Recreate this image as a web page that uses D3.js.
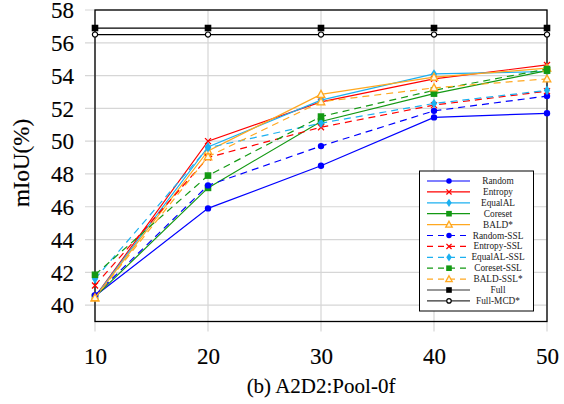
<!DOCTYPE html>
<html><head><meta charset="utf-8">
<script src="https://cdn.jsdelivr.net/npm/d3@7"></script>
<style>body{margin:0;background:#fff}svg{display:block}</style>
</head><body>
<svg id="c" width="564" height="404"></svg>
<script>
const xs = [10, 20, 30, 40, 50];
const yTicks = [40, 42, 44, 46, 48, 50, 52, 54, 56, 58];
const xTicks = [10, 20, 30, 40, 50];
const random      = [40.55, 45.9, 48.5, 51.45, 51.7];
const entropy     = [40.5, 50.0, 52.4, 53.8, 54.65];
const equalAL     = [40.5, 49.65, 52.5, 54.1, 54.25];
const coreset     = [40.5, 47.15, 51.2, 52.9, 54.3];
const bald        = [40.45, 49.4, 52.85, 53.9, 54.45];
const randomSSL   = [40.6, 47.3, 49.7, 51.85, 52.75];
const entropySSL  = [41.2, 49.0, 50.85, 52.2, 53.05];
const equalALSSL  = [41.6, 49.6, 51.1, 52.3, 53.1];
const coresetSSL  = [41.85, 47.9, 51.5, 53.1, 54.4];
const baldSSL     = [40.45, 49.05, 52.4, 53.25, 53.8];
const full        = [56.9, 56.9, 56.9, 56.9, 56.9];
const fullMCD     = [56.5, 56.5, 56.5, 56.5, 56.5];

const series = [
  {name:"Random", v:random, c:"#0000ff", m:"circle", d:false},
  {name:"Entropy", v:entropy, c:"#ff0000", m:"x", d:false},
  {name:"EqualAL", v:equalAL, c:"#1cb0f0", m:"diamond", d:false},
  {name:"Coreset", v:coreset, c:"#139913", m:"square", d:false},
  {name:"BALD*", v:bald, c:"#ffa820", m:"triangle", d:false},
  {name:"Random-SSL", v:randomSSL, c:"#0000ff", m:"circle", d:true},
  {name:"Entropy-SSL", v:entropySSL, c:"#ff0000", m:"x", d:true},
  {name:"EqualAL-SSL", v:equalALSSL, c:"#1cb0f0", m:"diamond", d:true},
  {name:"Coreset-SSL", v:coresetSSL, c:"#139913", m:"square", d:true},
  {name:"BALD-SSL*", v:baldSSL, c:"#ffa820", m:"triangle", d:true},
  {name:"Full", v:full, c:"#000000", m:"square", d:false},
  {name:"Full-MCD*", v:fullMCD, c:"#000000", m:"ocircle", d:false}
];

const FONT = "'Liberation Serif', serif";
const svg = d3.select("#c").style("font-family", FONT);
const L = 95, R = 547, T = 10, B = 321.5;
const x = d3.scaleLinear().domain([10, 50]).range([L, R]);
const y = d3.scaleLinear().domain([39, 58]).range([B, T]);

const g = svg.append("g");
g.selectAll(".gy").data(yTicks).join("line")
  .attr("x1", L - 10).attr("x2", R).attr("y1", d => y(d)).attr("y2", d => y(d))
  .attr("stroke", "#d6d6d6").attr("stroke-width", 1.2);
g.selectAll(".gx").data(xTicks).join("line")
  .attr("y1", T).attr("y2", B + 10).attr("x1", d => x(d)).attr("x2", d => x(d))
  .attr("stroke", "#d6d6d6").attr("stroke-width", 1.2);

const ax = svg.append("g").attr("transform", `translate(0,${B})`)
  .call(d3.axisBottom(x).tickValues(xTicks).tickSize(0).tickPadding(26).tickFormat(d3.format("d")));
const ay = svg.append("g").attr("transform", `translate(${L},0)`)
  .call(d3.axisLeft(y).tickValues(yTicks).tickSize(0).tickPadding(21).tickFormat(d3.format("d")));
[ax, ay].forEach(a => {
  a.attr("font-family", null).attr("font-size", null).style("font-family", FONT);
  a.select(".domain").remove();
  a.selectAll("text").style("font-family", FONT).attr("font-size", 23).attr("fill", "#000")
    .attr("stroke", "#000").attr("stroke-width", 0.15);
});
ay.selectAll("text").attr("dy", "0.34em");

svg.append("rect").attr("x", L).attr("y", T).attr("width", R - L).attr("height", B - T)
  .attr("fill", "none").attr("stroke", "#000").attr("stroke-width", 1.3);

function marker(sel, m, c, s) {
  s = s || 1;
  if (m === "circle") sel.append("circle").attr("r", 3.2 * s).attr("fill", c);
  else if (m === "ocircle") sel.append("circle").attr("r", 2.6 * s).attr("fill", "#fff").attr("stroke", c).attr("stroke-width", 1.2);
  else if (m === "square") sel.append("rect").attr("x", -3.3 * s).attr("y", -3.3 * s).attr("width", 6.6 * s).attr("height", 6.6 * s).attr("fill", c);
  else if (m === "diamond") sel.append("path").attr("d", `M0,${-4.8*s}L${3.2*s},0L0,${4.8*s}L${-3.2*s},0Z`).attr("fill", c);
  else if (m === "triangle") sel.append("path").attr("d", `M0,${-4*s}L${3.8*s},${3*s}L${-3.8*s},${3*s}Z`).attr("fill", "#fff7e0").attr("stroke", c).attr("stroke-width", 1.3);
  else if (m === "x") sel.append("path").attr("d", `M${-3*s},${-3*s}L${3*s},${3*s}M${-3*s},${3*s}L${3*s},${-3*s}`).attr("stroke", c).attr("stroke-width", 1.3).attr("fill", "none");
}

const line = d3.line().x((d, i) => x(xs[i])).y(d => y(d));
const plot = svg.append("g");
series.forEach(s => {
  plot.append("path").datum(s.v).attr("d", line).attr("fill", "none")
    .attr("stroke", s.c).attr("stroke-width", 1.2)
    .attr("stroke-dasharray", s.d ? "7,5" : null);
  s.v.forEach((v, i) => {
    const mg = plot.append("g").attr("transform", `translate(${x(xs[i])},${y(v)})`);
    marker(mg, s.m, s.c);
  });
});

const lg = svg.append("g");
lg.append("rect").attr("x", 419.5).attr("y", 171).attr("width", 114).attr("height", 140)
  .attr("fill", "#fff").attr("stroke", "#000").attr("stroke-width", 1);
series.forEach((s, i) => {
  const yy = 181 + i * 10.9;
  lg.append("line").attr("x1", 427).attr("x2", 470).attr("y1", yy).attr("y2", yy)
    .attr("stroke", s.c === "#000000" ? "#333" : s.c).attr("stroke-width", 1.2)
    .attr("stroke-dasharray", s.d ? "6,5" : null);
  const mg = lg.append("g").attr("transform", `translate(449,${yy})`);
  marker(mg, s.m, s.c, 0.85);
  lg.append("text").attr("x", 498).attr("y", yy).attr("dy", "0.33em").attr("text-anchor", "middle")
    .style("font-family", FONT).attr("font-size", 9.3).attr("fill", "#222").text(s.name);
});

svg.append("text").attr("transform", "translate(29,163) rotate(-90)").attr("text-anchor", "middle")
  .style("font-family", FONT).attr("font-size", 23).attr("fill", "#000")
  .attr("stroke", "#000").attr("stroke-width", 0.15).text("mIoU(%)");
svg.append("text").attr("x", 321).attr("y", 393).attr("text-anchor", "middle")
  .style("font-family", FONT).attr("font-size", 21).attr("fill", "#000")
  .attr("stroke", "#000").attr("stroke-width", 0.1).text("(b) A2D2:Pool-0f");
</script>
</body></html>
